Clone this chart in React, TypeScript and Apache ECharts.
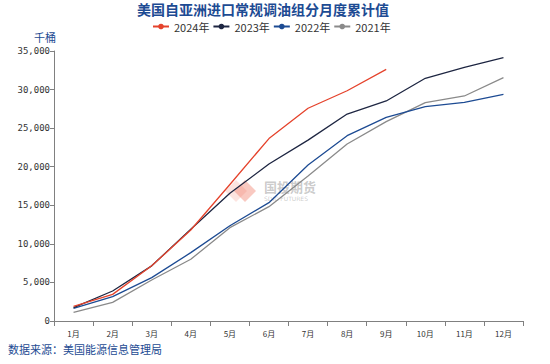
import React, { useEffect, useRef } from "react";
import * as echarts from "echarts";

const months = ["1月", "2月", "3月", "4月", "5月", "6月", "7月", "8月", "9月", "10月", "11月", "12月"];
const s2024 = [1900, 3450, 7150, 11800, 17700, 23650, 27580, 29850, 32620];
const s2023 = [1730, 3890, 7150, 11900, 16550, 20350, 23450, 26830, 28520, 31460, 32880, 34130];
const s2022 = [1640, 3150, 5620, 8860, 12350, 15340, 20220, 24020, 26400, 27780, 28350, 29390];
const s2021 = [1130, 2420, 5310, 8000, 12100, 14820, 18800, 22950, 25840, 28300, 29170, 31540];
const names = ["2024年", "2023年", "2022年", "2021年"];
const colors = ["#E5432C", "#1E2642", "#1D4B93", "#8A8A8A"];

export default function App() {
  const ref = useRef<HTMLDivElement>(null);
  useEffect(() => {
    const chart = echarts.init(ref.current!, undefined, { renderer: "svg" });
    const data = [s2024, s2023, s2022, s2021];
    chart.setOption({
      animation: false,
      backgroundColor: "#fff",
      title: {
        text: "美国自亚洲进口常规调油组分月度累计值",
        left: 137,
        top: 2,
        padding: 0,
        textStyle: { fontSize: 14, lineHeight: 14, fontWeight: "bold", color: "#1D4B93", fontFamily: "Noto Sans CJK SC" },
      },
      legend: {
        top: 21,
        left: 152,
        padding: 0,
        itemWidth: 16,
        itemHeight: 7,
        itemGap: 3,
        textStyle: { fontSize: 11, lineHeight: 11, color: "#333", fontFamily: "Noto Sans CJK SC" },
        data: names,
      },
      grid: { left: 54, right: 27, top: 51, bottom: 43 },
      xAxis: {
        type: "category",
        data: months,
        boundaryGap: true,
        axisLine: { lineStyle: { color: "#808080" } },
        axisTick: { show: true, alignWithLabel: false, lineStyle: { color: "#808080" } },
        axisLabel: { fontSize: 8, color: "#333", margin: 8, fontFamily: "Noto Sans CJK SC" },
      },
      yAxis: {
        type: "value",
        min: 0,
        max: 35000,
        interval: 5000,
        axisLine: { show: true, lineStyle: { color: "#808080" } },
        axisTick: { show: true, inside: false, length: 4, lineStyle: { color: "#808080" } },
        splitLine: { show: false },
        axisLabel: {
          fontSize: 9,
          color: "#333",
          margin: 4,
          fontFamily: "DejaVu Sans Mono",
          formatter: (v: number) => v.toLocaleString("en-US"),
        },
      },
      graphic: [
        {
          type: "text",
          left: 34,
          top: 31,
          style: { text: "千桶", fontSize: 11, fill: "#1D4B93", fontFamily: "Noto Sans CJK SC" },
        },
        {
          type: "text",
          left: 8,
          top: 343,
          style: { text: "数据来源：美国能源信息管理局", fontSize: 11, fill: "#1D4B93", fontFamily: "Noto Sans CJK SC" },
        },
        {
          type: "polygon",
          shape: { points: [[245, 180], [256, 191], [245, 202], [234, 191]] },
          style: { fill: "rgba(240,120,100,0.4)" },
        },
        {
          type: "polygon",
          shape: { points: [[236, 180], [247, 191], [236, 202], [225, 191]] },
          style: { fill: "rgba(240,120,100,0.2)" },
        },
        {
          type: "text",
          left: 264,
          top: 180,
          style: { text: "国投期货", fontSize: 13, fill: "rgba(140,140,140,0.45)", fontFamily: "Noto Sans CJK SC", fontWeight: "bold" },
        },
        {
          type: "text",
          left: 264,
          top: 195,
          style: { text: "SDIC FUTURES", fontSize: 6, fill: "rgba(140,140,140,0.45)", fontFamily: "DejaVu Sans" },
        },
      ],
      series: data.map((d, i) => ({
        name: names[i],
        type: "line",
        data: d,
        symbol: "circle",
        symbolSize: 7,
        showSymbol: false,
        lineStyle: { width: 1.3, color: colors[i] },
        itemStyle: { color: colors[i] },
        z: 10 - i,
      })),
    });
    return () => chart.dispose();
  }, []);
  return <div ref={ref} style={{ width: 550, height: 364, position: "absolute", left: 0, top: 0 }} />;
}
